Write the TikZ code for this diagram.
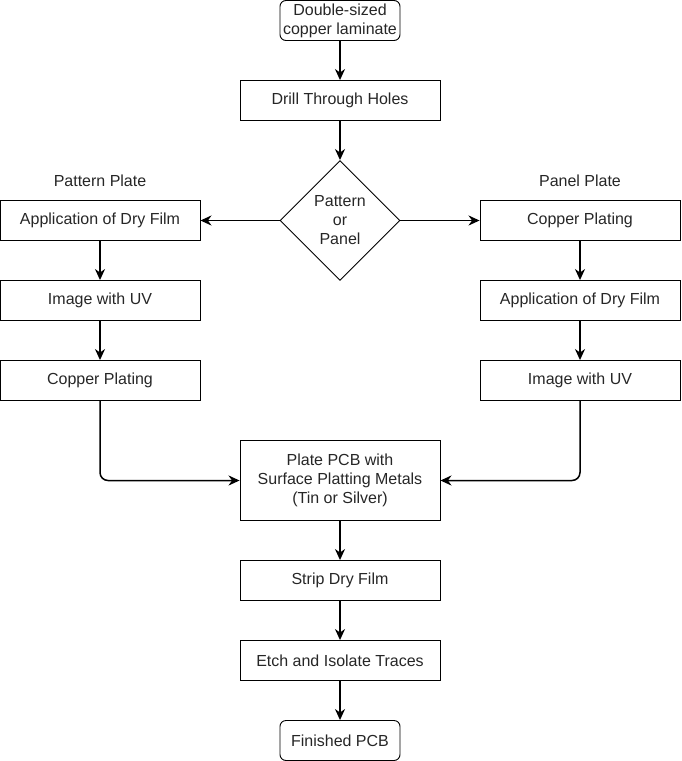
\documentclass[tikz,border=0pt]{standalone}
\usepackage{fontspec}
\setmainfont{Liberation Sans}
\usetikzlibrary{arrows.meta,shapes.geometric}
\begin{document}
\begin{tikzpicture}[x=1pt,y=-1pt,
  every node/.style={font=\fontsize{16}{19}\selectfont, text=black!85, align=center, inner sep=0pt},
  stepbox/.style={draw, line width=0.9pt, minimum width=200pt, minimum height=40pt},
  roundbox/.style={draw, line width=0.9pt, rounded corners=6pt, minimum width=120pt, minimum height=40pt},
  decision/.style={draw, line width=0.9pt, diamond, minimum width=120pt, minimum height=120pt, aspect=1},
  conn/.style={line width=1.5pt, -{Stealth[length=11pt,width=10pt,inset=3.5pt]}, rounded corners=8pt}
]
\useasboundingbox (0,0) rectangle (681,761);
\node[roundbox] (start) at (340,20.5) {Double-sized\\copper laminate};
\node[stepbox] (drill) at (340,100.5) {Drill Through Holes};
\node[decision] (dec) at (340,220.5) {Pattern\\or\\Panel};
\node (lpat) at (100,180.5) {Pattern Plate};
\node (lpan) at (580,180.5) {Panel Plate};
\node[stepbox] (l1) at (100,220.5) {Application of Dry Film};
\node[stepbox] (l2) at (100,300.5) {Image with UV};
\node[stepbox] (l3) at (100,380.5) {Copper Plating};
\node[stepbox] (r1) at (580,220.5) {Copper Plating};
\node[stepbox] (r2) at (580,300.5) {Application of Dry Film};
\node[stepbox] (r3) at (580,380.5) {Image with UV};
\node[stepbox, minimum height=80pt] (plate) at (340,480.5) {Plate PCB with\\Surface Platting Metals\\(Tin or Silver)};
\node[stepbox] (strip) at (340,580.5) {Strip Dry Film};
\node[stepbox] (etch) at (340,660.5) {Etch and Isolate Traces};
\node[roundbox] (fin) at (340,740.5) {Finished PCB};
\draw[conn] (start) -- (drill);
\draw[conn] (drill) -- (dec);
\draw[conn] (dec.west) -- (l1.east);
\draw[conn] (dec.east) -- (r1.west);
\draw[conn] (l1) -- (l2);
\draw[conn] (l2) -- (l3);
\draw[conn] (r1) -- (r2);
\draw[conn] (r2) -- (r3);
\draw[conn] (l3.south) |- (plate.west);
\draw[conn] (r3.south) |- (plate.east);
\draw[conn] (plate) -- (strip);
\draw[conn] (strip) -- (etch);
\draw[conn] (etch) -- (fin);
\end{tikzpicture}
\end{document}
